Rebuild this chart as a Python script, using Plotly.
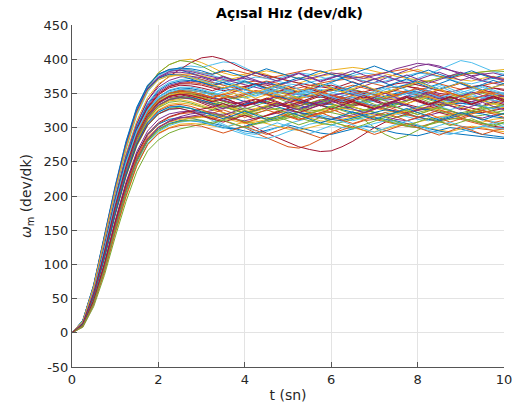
import plotly.graph_objects as go

T = [0, 0.25, 0.5, 0.75, 1, 1.25, 1.5, 1.75, 2, 2.25, 2.5, 2.75, 3, 3.25, 3.5, 3.75,
     4, 4.25, 4.5, 4.75, 5, 5.25, 5.5, 5.75, 6, 6.25, 6.5, 6.75, 7, 7.25, 7.5, 7.75,
     8, 8.25, 8.5, 8.75, 9, 9.25, 9.5, 9.75, 10]

w01 = [0,15,60,120,188,245,290,320,340,350,355,352,348,345,340,343,338,335,340,346,342,338,333,336,341,345,340,336,332,335,340,344,347,342,338,335,338,342,339,336,340]
w02 = [0,10,46,98,158,212,258,288,305,315,320,322,320,315,310,305,300,292,285,278,272,270,275,283,292,300,305,310,312,308,305,302,300,305,310,314,312,308,305,300,298]
w03 = [0,18,68,138,210,275,325,360,380,392,398,400,395,388,380,376,378,382,378,372,368,365,370,375,378,380,376,372,370,374,378,382,385,380,375,372,370,368,372,375,370]
w04 = [0,14,57,116,182,240,286,316,336,346,350,348,344,340,335,330,332,336,338,334,330,328,332,338,345,350,355,360,366,372,378,385,390,393,390,384,378,372,368,365,362]
w05 = [0,9,42,92,150,205,250,280,295,305,310,314,316,318,320,322,318,315,312,310,314,318,322,325,322,318,315,312,300,290,283,288,296,305,312,318,322,325,328,330,332]
w06 = [0,17,66,134,205,268,318,352,372,382,388,390,388,392,396,395,388,380,375,372,376,380,378,374,370,372,376,380,378,374,370,368,372,378,385,392,398,395,388,382,378]
w07 = [0,15,62,125,195,255,305,340,362,375,385,395,402,404,400,392,385,380,376,372,368,365,362,360,358,355,352,350,348,352,356,360,358,354,350,348,346,350,354,352,350]
w08 = [0,11,48,100,162,218,262,290,305,312,315,314,310,306,302,298,295,292,296,300,304,300,296,292,290,294,298,302,300,296,292,290,288,292,296,300,298,294,290,288,286]
w09 = [0,15,60,122,190,250,296,328,348,360,365,366,364,360,358,362,366,368,365,360,356,358,362,365,368,370,372,368,364,360,358,362,366,368,364,360,356,358,362,365,368]
w10 = [0,13,55,113,178,235,280,312,330,340,344,345,342,338,332,328,325,328,332,336,334,330,326,324,328,332,335,332,328,325,322,326,330,334,336,332,328,325,322,326,330]
w11 = [0,10,44,94,152,207,252,282,300,310,316,320,322,325,328,330,334,338,342,345,342,338,335,338,342,346,350,348,344,340,342,346,350,352,348,344,340,338,342,346,348]
w12 = [0,16,66,135,206,270,322,358,380,392,398,396,390,382,375,370,366,362,358,355,352,350,348,345,342,340,338,336,340,344,348,352,350,346,342,345,348,352,350,346,342]
w13 = [0,13,54,112,176,232,276,306,322,330,332,328,320,312,305,298,292,290,294,300,306,310,314,318,315,312,310,314,318,322,320,316,312,310,314,318,320,316,312,308,305]
w14 = [0,14,58,118,184,242,288,318,336,344,346,342,336,330,322,315,308,300,292,285,278,272,268,265,266,272,280,290,300,308,315,320,325,328,332,335,332,328,325,322,320]
w15 = [0,15,61,124,192,250,296,327,345,354,358,357,354,350,346,344,348,352,350,346,342,345,350,354,356,352,348,345,342,346,350,354,352,348,344,342,346,350,352,348,345]
w16 = [0,17,68,138,212,276,326,360,378,385,386,384,380,378,382,384,380,376,372,375,378,382,385,382,378,374,372,375,378,380,384,386,382,378,375,372,376,380,378,374,372]
w17 = [0,9,40,88,145,198,244,275,292,300,305,306,305,302,300,304,308,310,306,302,298,296,300,305,308,304,300,296,294,298,302,306,304,300,296,294,298,302,300,296,294]
w18 = [0,14,57,117,183,241,287,317,335,345,350,350,347,344,340,336,334,338,342,345,342,338,335,332,335,340,344,342,338,334,336,340,344,346,342,338,335,338,342,340,336]
w19 = [0,8,38,84,140,192,236,266,282,292,298,302,305,308,312,315,318,322,325,328,326,322,318,320,324,328,330,326,322,318,315,318,322,326,328,325,320,316,318,322,325]
w20 = [0,15,62,126,195,255,302,336,356,366,370,372,370,366,362,365,370,374,372,368,364,362,366,370,374,376,372,368,365,368,372,376,380,378,374,370,366,364,368,372,370]
w21 = [0,14,58,119,186,244,290,320,338,346,348,345,340,335,330,326,322,325,330,334,330,326,322,320,324,328,332,335,332,328,324,322,326,330,334,332,328,324,322,325,328]
w22 = [0,18,70,142,215,280,330,362,378,384,384,380,375,370,365,360,356,352,348,345,342,340,336,332,330,326,322,318,315,312,310,306,302,298,295,292,290,288,286,285,284]
w23 = [0,15,60,121,188,246,292,322,340,350,354,352,348,344,348,352,356,352,348,344,340,336,332,334,338,342,338,334,330,326,322,318,315,312,308,305,302,300,298,296,298]
w24 = [0,16,64,130,200,262,310,344,364,374,378,378,376,372,368,372,376,380,383,380,376,372,375,380,384,386,388,386,382,378,375,372,370,368,372,376,378,380,382,384,385]
w25 = [0,11,48,102,164,220,265,295,312,320,323,324,322,320,316,312,310,314,318,322,325,322,318,314,312,315,319,322,320,316,312,310,314,318,322,324,320,316,314,318,320]
w26 = [0,14,58,118,184,242,288,318,337,347,352,354,352,350,346,342,345,350,354,352,348,344,346,350,354,358,356,352,348,352,356,360,364,368,372,376,378,380,382,383,382]
w27 = [0,13,53,110,174,230,275,304,320,326,328,324,318,310,302,295,290,286,284,288,294,300,305,308,304,300,298,302,306,310,308,304,300,296,292,290,294,298,302,300,298]
w28 = [0,15,60,122,190,248,294,324,342,350,352,350,346,342,338,335,338,342,338,334,330,332,336,340,344,340,336,332,328,332,336,334,330,326,322,318,314,310,306,302,300]
w29 = [0,14,57,116,181,238,284,314,332,341,345,344,340,336,332,330,334,338,335,330,326,328,332,336,334,330,326,324,328,332,335,332,328,326,330,334,336,333,330,328,332]
w30 = [0,17,67,136,208,272,322,355,372,378,378,375,370,366,362,358,360,364,368,365,360,356,352,350,354,358,362,358,354,350,348,352,356,358,354,350,346,348,352,350,346]
w31 = [0,10,45,96,156,210,255,284,300,308,312,314,315,316,314,310,306,308,312,316,320,318,314,310,308,312,316,318,314,310,306,304,308,312,316,318,314,310,308,312,314]
w32 = [0,15,61,124,193,252,299,332,352,362,366,368,366,362,366,370,372,368,364,362,366,370,372,376,380,378,374,372,376,380,386,390,394,392,388,384,380,376,378,380,376]
w33 = [0,13,55,114,180,237,283,313,331,340,343,342,338,334,330,326,322,326,330,334,332,328,324,326,330,334,330,326,322,318,322,326,330,328,324,320,318,322,326,330,334]
w34 = [0,18,69,140,212,276,326,358,376,384,386,384,380,376,372,370,366,362,358,354,350,348,352,356,352,348,344,340,338,342,346,350,348,344,340,338,342,346,344,340,338]
w35 = [0,15,61,124,192,252,298,330,350,360,364,364,362,358,354,356,360,364,362,358,354,352,356,360,362,358,354,352,356,360,364,366,362,358,355,352,356,360,362,358,356]
w36 = [0,10,44,94,153,207,252,282,298,306,310,310,308,304,300,298,302,306,310,314,318,322,320,316,312,310,314,318,322,326,324,320,316,312,310,314,318,322,320,316,314]
w37 = [0,14,59,120,187,245,291,321,340,350,355,355,352,348,344,346,350,354,352,348,344,342,346,350,348,344,340,343,347,350,354,352,348,344,340,342,346,350,352,348,345]
w38 = [0,13,54,112,177,234,280,310,326,334,336,334,330,326,322,318,320,324,328,326,322,318,316,320,324,328,326,322,318,316,320,324,328,330,326,322,318,320,324,322,320]
w39 = [0,17,68,138,210,274,324,357,374,382,384,382,378,374,370,366,362,358,355,352,350,348,346,344,347,350,348,344,340,342,346,350,352,348,344,340,338,342,346,348,345]
w40 = [0,12,52,108,172,228,273,303,320,328,330,328,324,320,316,312,308,305,308,312,316,314,310,306,304,308,312,316,314,310,306,302,300,304,308,312,314,310,306,304,308]
w41 = [0,14,58,119,186,244,290,321,339,349,353,352,349,352,346,350,343,347,354,349,344,350,356,350,345,340,346,352,347,341,345,351,356,350,344,348,354,349,343,347,351]
w42 = [0,15,59,120,187,245,291,320,338,346,349,347,343,338,344,337,331,336,342,336,330,335,341,346,340,334,339,345,339,333,329,335,341,336,330,336,342,337,332,338,334]
w43 = [0,17,67,137,209,273,323,356,372,378,376,371,366,361,366,360,355,361,367,362,357,352,358,364,359,354,360,366,371,365,359,363,368,362,356,361,366,360,355,359,364]
w44 = [0,10,45,97,157,211,256,285,301,309,314,316,317,312,318,313,307,312,318,324,318,312,317,322,316,311,306,311,317,322,316,310,315,320,314,308,313,318,312,307,311]
w45 = [0,14,56,115,180,238,284,314,331,339,341,338,333,328,333,327,322,327,333,338,332,326,321,326,332,337,331,325,330,336,330,324,319,325,331,336,330,325,330,335,329]
w46 = [0,16,63,128,198,259,306,340,359,369,374,375,373,368,374,369,375,370,364,369,375,380,374,368,373,378,372,366,371,376,370,365,370,376,381,375,369,374,379,373,368]
w47 = [0,15,60,121,189,247,293,323,341,350,353,350,345,340,335,330,325,320,315,312,318,324,330,336,342,337,332,338,344,339,334,340,346,341,336,342,348,343,338,343,339]
w48 = [0,9,41,90,148,202,247,277,294,303,308,310,309,304,299,305,300,295,301,307,302,296,291,297,303,309,304,298,293,299,305,310,304,298,303,308,302,297,302,307,301]
w49 = [0,15,61,123,191,250,297,329,348,358,362,361,358,354,359,353,358,364,358,352,357,363,357,351,356,362,367,361,355,350,355,361,356,350,355,360,365,359,353,358,354]
w50 = [0,18,69,140,213,278,328,361,378,385,387,386,383,378,384,379,374,380,386,381,376,371,377,383,378,373,379,385,390,384,378,373,379,384,378,373,378,383,377,372,377]
w51 = [0,13,54,112,176,233,279,308,325,332,334,331,326,321,326,320,315,320,326,321,316,311,316,322,327,321,316,321,327,332,326,320,315,320,326,321,315,320,325,320,315]
w52 = [0,14,58,118,185,243,289,319,338,347,351,351,349,344,349,355,349,343,348,354,348,342,347,353,358,352,346,341,346,352,346,340,345,351,356,350,344,349,354,348,343]
w53 = [0,10,44,95,154,208,253,283,300,309,314,317,319,322,318,324,329,325,330,336,331,326,332,338,343,338,333,339,345,350,344,339,345,351,346,340,346,352,347,342,347]
w54 = [0,14,57,117,183,240,286,316,333,342,345,343,338,333,338,332,327,332,338,343,337,331,336,341,335,329,334,340,334,328,333,339,344,338,332,337,342,336,331,336,332]
w55 = [0,17,66,135,206,270,320,353,370,376,377,374,369,364,369,363,357,362,356,350,355,349,343,348,342,337,342,336,331,336,330,325,330,336,331,326,331,337,332,327,332]
w56 = [0,13,53,110,174,230,275,304,320,327,328,324,318,313,308,313,318,312,317,323,328,322,327,333,327,332,338,332,327,333,339,344,338,333,339,345,339,334,340,346,341]
w57 = [0,15,62,125,194,254,301,334,354,364,368,369,367,362,357,362,368,363,357,362,368,373,367,361,366,372,366,360,355,360,366,371,365,359,364,370,364,358,363,369,364]
w58 = [0,9,41,89,147,200,245,275,291,299,303,304,302,297,292,297,302,296,290,295,301,296,290,285,291,297,302,296,290,295,301,306,300,294,289,295,301,296,290,295,291]
w59 = [0,14,58,119,186,244,290,320,338,347,350,348,344,339,344,350,344,338,343,349,343,337,342,348,342,336,341,347,352,346,340,335,340,346,340,334,339,345,339,334,339]
w60 = [0,17,67,137,210,274,324,357,373,380,381,379,375,370,375,369,374,380,374,368,373,379,373,367,372,378,383,377,371,366,371,377,371,365,370,376,381,375,369,374,370]
w61 = [0,13,55,114,179,236,282,312,329,337,339,336,331,326,331,325,320,325,331,326,320,315,320,326,331,325,320,325,331,336,330,324,319,324,330,325,319,324,330,324,319]
w62 = [0,15,60,122,190,249,295,326,345,355,359,359,356,351,356,361,355,350,355,360,354,349,354,360,365,359,353,348,353,358,352,347,352,358,363,357,351,356,361,355,350]
w63 = [0,11,47,100,161,216,261,291,307,316,321,324,326,330,335,330,336,341,336,331,336,342,337,332,337,343,338,333,328,333,339,344,339,334,339,345,340,335,340,345,340]
w64 = [0,13,54,111,175,232,277,307,323,330,331,328,323,318,313,318,324,318,312,317,323,318,312,307,312,318,323,317,312,317,323,328,322,316,311,316,322,317,311,316,321]
w65 = [0,14,59,120,188,246,292,322,341,350,353,352,349,344,349,343,348,354,349,343,348,354,359,353,347,342,347,353,348,342,347,353,358,352,346,351,346,341,346,352,347]
w66 = [0,17,67,136,208,271,321,354,370,376,376,373,368,363,358,363,357,352,357,363,358,353,358,364,358,352,357,362,356,351,356,362,367,361,355,360,366,360,354,359,363]
w67 = [0,14,57,116,182,239,285,315,333,341,344,342,338,333,328,333,339,333,327,332,338,333,328,334,339,333,327,322,327,333,338,332,326,331,337,332,326,331,337,331,326]
w68 = [0,10,43,93,152,206,251,281,297,305,309,311,311,306,311,305,300,305,311,316,310,304,309,315,309,304,299,304,310,315,309,303,308,314,309,303,308,313,307,302,307]
w69 = [0,15,60,122,189,248,294,325,343,352,356,355,352,347,352,357,351,346,351,357,362,356,350,345,350,356,350,345,350,356,361,355,349,354,360,354,348,353,359,353,348]
w70 = [0,14,58,118,185,243,289,319,337,346,349,347,343,338,343,337,332,337,343,338,332,337,343,348,342,336,341,347,341,335,340,346,340,334,339,345,340,334,339,344,338]

SERIES = [w01, w02, w03, w04, w05, w06, w07, w08, w09, w10, w11, w12, w13, w14, w15, w16, w17, w18, w19, w20,
          w21, w22, w23, w24, w25, w26, w27, w28, w29, w30, w31, w32, w33, w34, w35, w36, w37, w38, w39, w40,
          w41, w42, w43, w44, w45, w46, w47, w48, w49, w50, w51, w52, w53, w54, w55, w56, w57, w58, w59, w60,
          w61, w62, w63, w64, w65, w66, w67, w68, w69, w70]

COLORS = ["#0072BD", "#D95319", "#EDB120", "#7E2F8E", "#77AC30", "#4DBEEE", "#A2142F"]

X_TICKS = [0, 2, 4, 6, 8, 10]
Y_TICKS = [-50, 0, 50, 100, 150, 200, 250, 300, 350, 400, 450]

fig = go.Figure()
for i, s in enumerate(SERIES):
    fig.add_trace(go.Scatter(x=T, y=s, mode="lines",
                             line=dict(color=COLORS[i % len(COLORS)], width=1),
                             showlegend=False, hoverinfo="skip"))

FONT = "DejaVu Sans"
fig.update_layout(
    width=524, height=414,
    margin=dict(l=72, r=17, t=25, b=47),
    paper_bgcolor="white", plot_bgcolor="white",
    font=dict(family=FONT, size=13, color="#262626"),
    title=dict(text="<b>Açısal Hız (dev/dk)</b>", x=0.5525, xanchor="center",
               y=0.968, yanchor="middle", font=dict(size=14, color="#000000")),
)
fig.update_xaxes(range=[0, 10], tickvals=X_TICKS, ticktext=[str(v) for v in X_TICKS],
                 showgrid=True, gridcolor="#e3e3e3", gridwidth=1,
                 showline=True, linecolor="#555555", linewidth=1,
                 ticks="inside", ticklen=5, tickcolor="#555555",
                 zeroline=False,
                 title=dict(text="t (sn)", font=dict(size=14), standoff=4))
fig.update_yaxes(range=[-50, 450], tickvals=Y_TICKS, ticktext=[str(v) for v in Y_TICKS],
                 showgrid=True, gridcolor="#e3e3e3", gridwidth=1,
                 showline=True, linecolor="#555555", linewidth=1,
                 ticks="inside", ticklen=5, tickcolor="#555555",
                 zeroline=False,
                 title=dict(text="<i>ω</i><sub>m</sub> (dev/dk)", font=dict(size=14), standoff=8))

fig.write_html("out.html")
